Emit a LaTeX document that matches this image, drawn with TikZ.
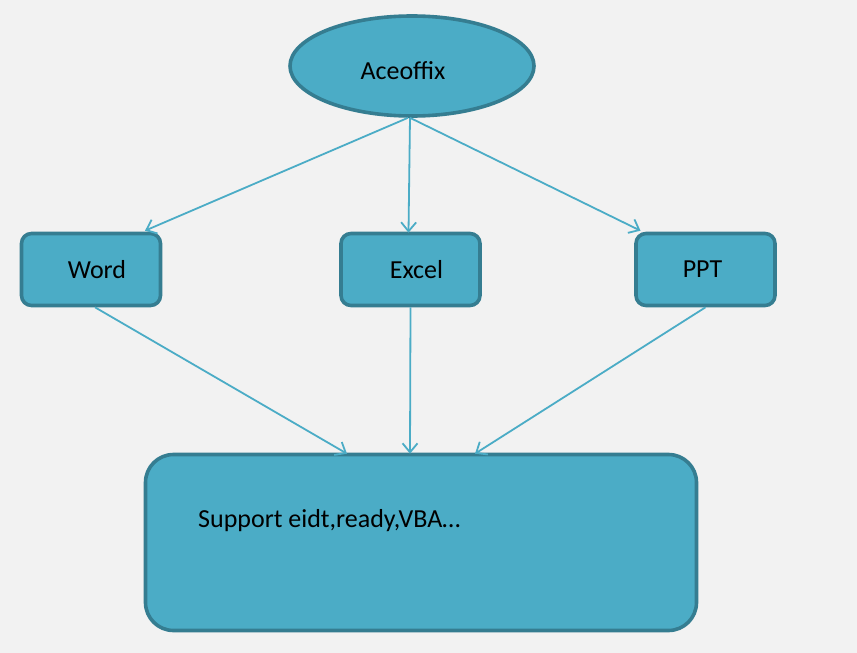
\documentclass[tikz,border=0pt]{standalone}
\usepackage{fontspec}
\setmainfont{Carlito}
\usetikzlibrary{shapes.geometric,arrows.meta}
\definecolor{bg}{HTML}{F2F2F2}
\definecolor{boxfill}{HTML}{4BACC6}
\definecolor{boxline}{HTML}{357D91}
\definecolor{arrowc}{HTML}{4BACC6}
\tikzset{
  shapebase/.style={fill=boxfill, draw=boxline, line width=3.6pt, font=\fontsize{26}{30}\selectfont, text=black},
  ellbox/.style={shapebase, ellipse, minimum width=244pt, minimum height=100pt, inner sep=0pt},
  smallbox/.style={shapebase, rectangle, rounded corners=10pt, minimum width=139pt, minimum height=72pt, inner sep=0pt},
  bigbox/.style={shapebase, rectangle, rounded corners=28pt, minimum width=551pt, minimum height=176pt, inner sep=0pt},
  labeltext/.style={font=\fontsize{26}{30}\selectfont, text=black, inner sep=0pt},
  conn/.style={draw=arrowc, line width=1.8pt, -{Straight Barb[length=9pt,width=15pt,line width=1.8pt]}}
}
\begin{document}
\begin{tikzpicture}[x=1pt,y=-1pt]
\fill[bg] (0,0) rectangle (857,653);
\useasboundingbox (0,0) rectangle (857,653);
\node[ellbox] (ace) at (412,66) {};
\node[labeltext] (acetext) at (403,71) {Aceoffix};
\node[smallbox] (word) at (91,269.5) {\hspace*{12pt}Word};
\node[smallbox] (excel) at (410.5,269.5) {\hspace*{12pt}Excel};
\node[smallbox] (ppt) at (705.5,269.5) {\hspace*{-6pt}PPT};
\node[bigbox] (sup) at (421,542.5) {};
\node[labeltext, anchor=west] (suptext) at (198,521) {Support eidt,ready,VBA…};
\draw[conn] ([xshift=-4pt]ace.south) -- ([xshift=54pt,yshift=1pt]word.north);
\draw[conn] ([xshift=-2pt]ace.south) -- ([xshift=-2pt,yshift=-1pt]excel.north);
\draw[conn] ([xshift=-2pt]ace.south) -- ([xshift=-65pt,yshift=1pt]ppt.north);
\draw[conn] ([xshift=4pt]word.south) -- ([xshift=-74pt,yshift=-1pt]sup.north);
\draw[conn] (excel.south) -- ([xshift=-11pt,yshift=-1pt]sup.north);
\draw[conn] (ppt.south) -- ([xshift=54pt,yshift=-1pt]sup.north);
\end{tikzpicture}
\end{document}
